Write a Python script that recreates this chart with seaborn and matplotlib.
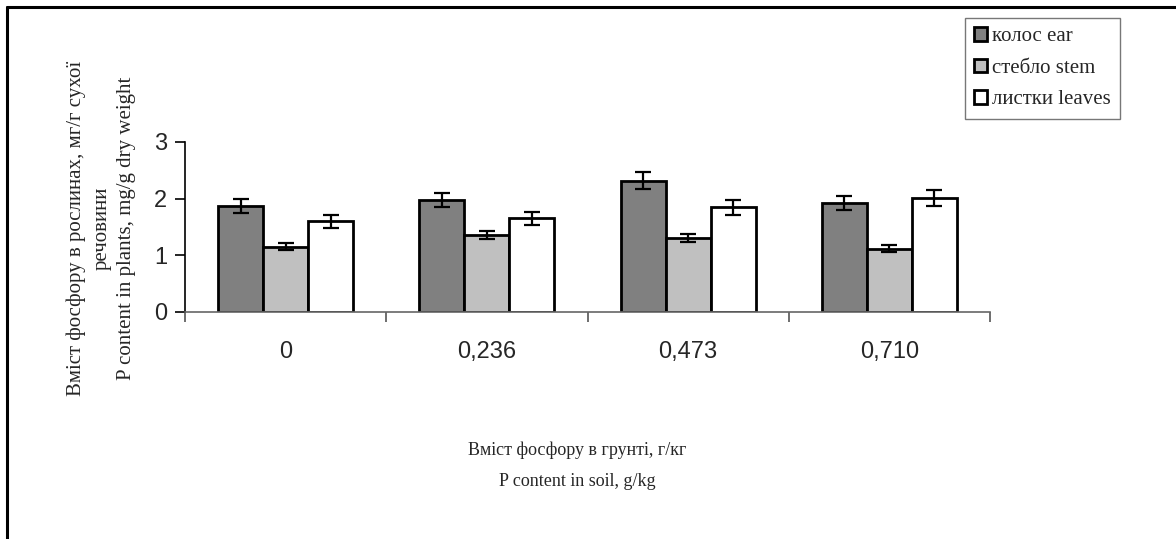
import matplotlib
matplotlib.use("Agg")
import matplotlib.pyplot as plt
import seaborn as sns
import pandas as pd
import numpy as np
from matplotlib.lines import Line2D
from matplotlib.ticker import FixedLocator

categories = ["0", "0,236", "0,473", "0,710"]
series = ["колос ear", "стебло stem", "листки leaves"]
ear = [1.87, 1.98, 2.32, 1.92]
stem = [1.15, 1.36, 1.31, 1.12]
leaves = [1.60, 1.65, 1.85, 2.01]
ear_err = [0.12, 0.12, 0.145, 0.125]
stem_err = [0.06, 0.075, 0.075, 0.065]
leaves_err = [0.12, 0.12, 0.135, 0.145]
colors = ["#808080", "#C0C0C0", "#FFFFFF"]
ylabel_lines = ["Вміст фосфору в рослинах, мг/г сухої", "речовини",
                "P content in plants, mg/g dry weight"]
xlabel_lines = ["Вміст фосфору в грунті, г/кг", "P content in soil, g/kg"]

values = [ear, stem, leaves]
errors = [ear_err, stem_err, leaves_err]

df = pd.DataFrame({
    "soil": np.repeat([categories], 3, axis=0).ravel(),
    "part": np.repeat(series, len(categories)),
    "value": np.concatenate(values),
})

sns.set_theme(style="white")
plt.rcParams["font.family"] = ["Liberation Serif", "DejaVu Serif"]

fig = plt.figure(figsize=(11.76, 5.39), dpi=100)
ax = fig.add_axes([185 / 1176, 1 - 312 / 539, (990 - 185) / 1176, (312 - 142) / 539])

sns.barplot(data=df, x="soil", y="value", hue="part", order=categories,
            hue_order=series, palette=colors, width=0.67, ax=ax,
            edgecolor="black", linewidth=2, saturation=1, errorbar=None)

for cont, err in zip(ax.containers, errors):
    xs = [b.get_x() + b.get_width() / 2 for b in cont]
    hs = [b.get_height() for b in cont]
    ax.errorbar(xs, hs, yerr=err, fmt="none", ecolor="black",
                elinewidth=1.6, capsize=6, capthick=1.6, zorder=5)

ax.set_ylim(0, 3)
ax.set_xlim(-0.5, 3.5)
ax.set_yticks([0, 1, 2, 3])
ax.set_yticklabels(["0", "1", "2", "3"], fontfamily="Liberation Sans", fontsize=17)
ax.set_xticks(range(len(categories)))
ax.set_xticklabels(categories, fontfamily="Liberation Sans", fontsize=17)
ax.xaxis.set_minor_locator(FixedLocator(np.arange(-0.5, 4, 1.0)))
ax.tick_params(axis="x", which="major", length=0, pad=21)
ax.tick_params(axis="x", which="minor", length=7, width=1.2, color="#555555",
               direction="out", bottom=True)
ax.tick_params(axis="y", which="major", length=7, width=1.2, color="black",
               direction="out", pad=6, left=True)
for s in ["top", "right"]:
    ax.spines[s].set_visible(False)
ax.spines["left"].set_color("black")
ax.spines["left"].set_linewidth(1.2)
ax.spines["bottom"].set_color("#666666")
ax.spines["bottom"].set_linewidth(1.2)
ax.set_xlabel("")
ax.set_ylabel("")

handles, labels = ax.get_legend_handles_labels()
ax.get_legend().remove()
leg = fig.legend(handles, labels, loc="upper left",
                 bbox_to_anchor=(965 / 1176, 1 - 18 / 539), frameon=True, fancybox=False,
                 edgecolor="#555555", fontsize=15, handlelength=0.6, handleheight=0.6,
                 handletextpad=0.25, labelspacing=0.6, borderpad=0.45, borderaxespad=0)
leg.get_frame().set_linewidth(1)

for xpix, line in zip([76, 102, 127], ylabel_lines):
    fig.text(xpix / 1176, 1 - 228 / 539, line, rotation=90, ha="center", va="center",
             fontsize=15)
for ypix, line in zip([450, 482], xlabel_lines):
    fig.text(577 / 1176, 1 - ypix / 539, line, ha="center", va="center", fontsize=13)

fig.add_artist(Line2D([7 / 1176, 1], [1 - 7 / 539, 1 - 7 / 539], color="black", lw=2.2,
                      transform=fig.transFigure))
fig.add_artist(Line2D([7 / 1176, 7 / 1176], [0, 1 - 7 / 539], color="black", lw=2.2,
                      transform=fig.transFigure))

fig.savefig("out.png", dpi=100)
